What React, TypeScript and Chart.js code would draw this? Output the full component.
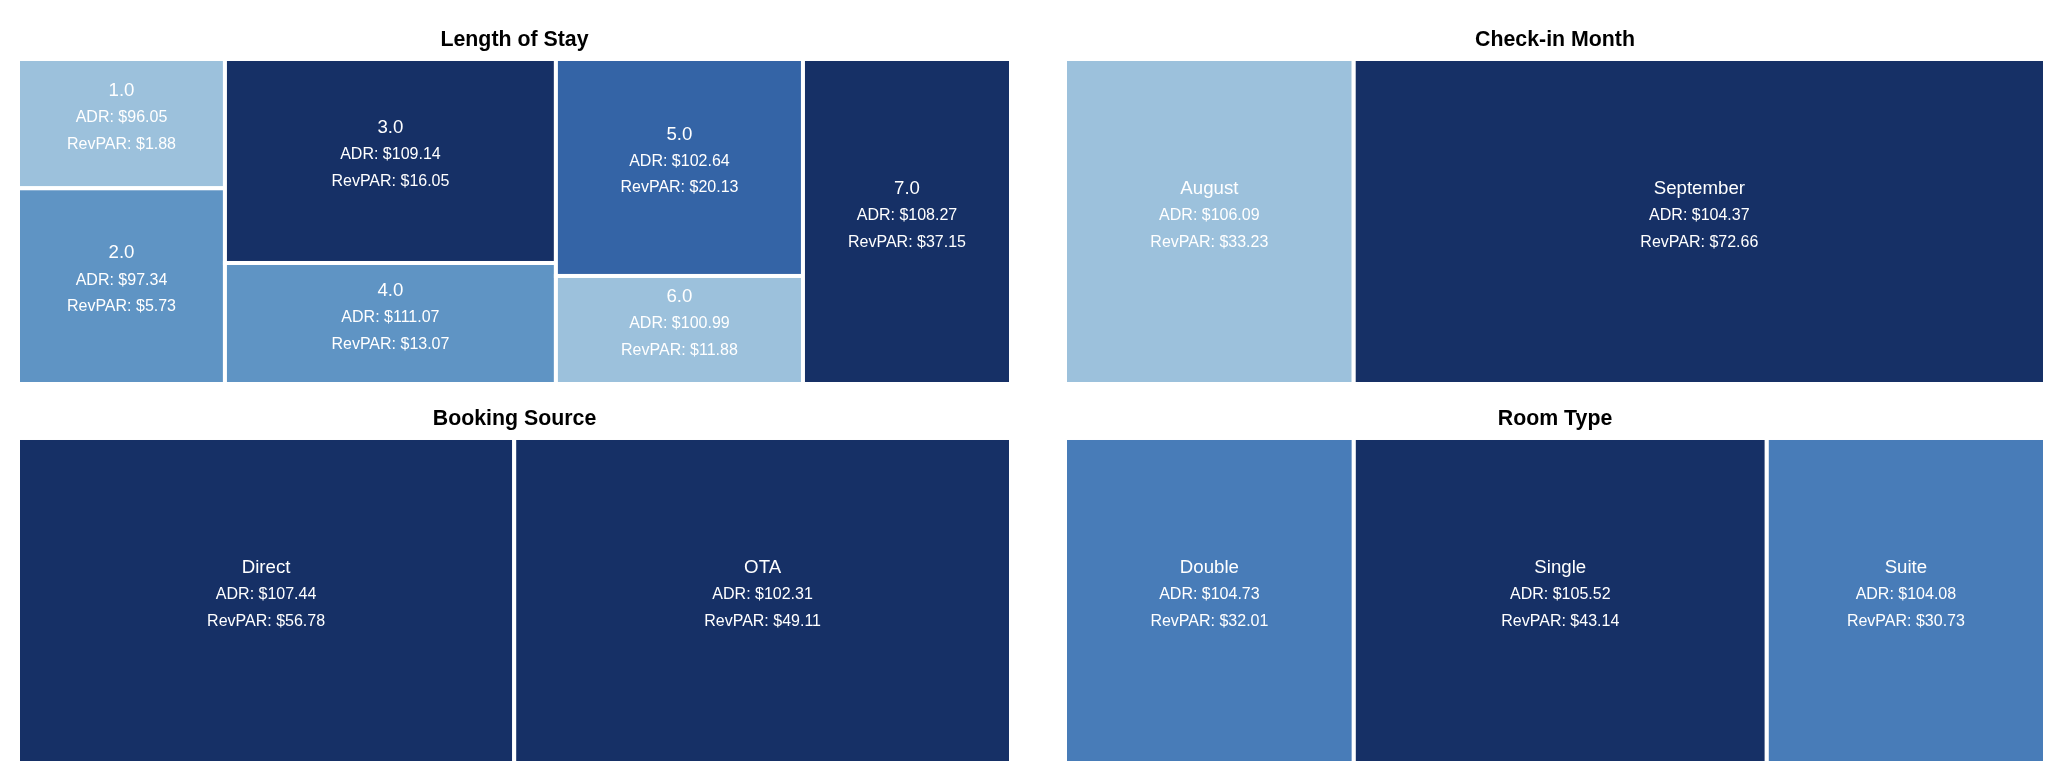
import React, { useEffect, useRef } from "react";
import { Chart, registerables } from "chart.js";

Chart.register(...registerables);

// ---------- data ----------
const losLabels = ["1.0", "2.0", "3.0", "4.0", "5.0", "6.0", "7.0"];
const losShare = [8.29, 12.55, 20.92, 12.41, 16.61, 8.27, 20.95];
const losADR = [96.05, 97.34, 109.14, 111.07, 102.64, 100.99, 108.27];
const losRevPAR = [1.88, 5.73, 16.05, 13.07, 20.13, 11.88, 37.15];

const monthLabels = ["August", "September"];
const monthShare = [29.46, 70.54];
const monthADR = [106.09, 104.37];
const monthRevPAR = [33.23, 72.66];

const sourceLabels = ["Direct", "OTA"];
const sourceShare = [49.97, 50.03];
const sourceADR = [107.44, 102.31];
const sourceRevPAR = [56.78, 49.11];

const roomLabels = ["Double", "Single", "Suite"];
const roomShare = [29.47, 42.14, 28.39];
const roomADR = [104.73, 105.52, 104.08];
const roomRevPAR = [32.01, 43.14, 30.73];

// ---------- styles ----------
const DARK = "#163066";
const LIGHT = "#9CC1DC";
const MID = "#5F94C4";
const MIDDARK = "#3464A6";
const ROOMMID = "#487CB8";

const losColors = [LIGHT, MID, DARK, MID, MIDDARK, LIGHT, DARK];
const monthColors = [LIGHT, DARK];
const sourceColors = [DARK, DARK];
const roomColors = [ROOMMID, DARK, ROOMMID];

const FONT = '"Liberation Sans", Arial, Helvetica, sans-serif';

type Panel = {
  title: string;
  labels: string[];
  values: number[];
  adr: number[];
  revpar: number[];
  colors: string[];
  left: number;
  top: number;
  width: number;
  height: number;
};

const panels: Panel[] = [
  { title: "Length of Stay", labels: losLabels, values: losShare, adr: losADR, revpar: losRevPAR, colors: losColors, left: 10, top: 12, width: 993, height: 364 },
  { title: "Check-in Month", labels: monthLabels, values: monthShare, adr: monthADR, revpar: monthRevPAR, colors: monthColors, left: 1057, top: 12, width: 980, height: 364 },
  { title: "Booking Source", labels: sourceLabels, values: sourceShare, adr: sourceADR, revpar: sourceRevPAR, colors: sourceColors, left: 10, top: 391, width: 993, height: 364 },
  { title: "Room Type", labels: roomLabels, values: roomShare, adr: roomADR, revpar: roomRevPAR, colors: roomColors, left: 1057, top: 391, width: 980, height: 364 },
];

// d3-style squarified treemap (golden ratio), unsorted
function squarify(values: number[], W: number, H: number) {
  const ratio = (1 + Math.sqrt(5)) / 2;
  const n = values.length;
  const out: { x0: number; y0: number; x1: number; y1: number }[] = new Array(n);
  let x0 = 0, y0 = 0, x1 = W, y1 = H;
  let value = values.reduce((a, b) => a + b, 0);
  let i0 = 0, i1 = 0;
  while (i0 < n) {
    const dx = x1 - x0, dy = y1 - y0;
    let sumValue = values[i1++];
    let minV = sumValue, maxV = sumValue;
    const alpha = Math.max(dy / dx, dx / dy) / (value * ratio);
    let beta = sumValue * sumValue * alpha;
    let minRatio = Math.max(maxV / beta, beta / minV);
    for (; i1 < n; ++i1) {
      const nv = values[i1];
      sumValue += nv;
      const mn = Math.min(minV, nv), mx = Math.max(maxV, nv);
      beta = sumValue * sumValue * alpha;
      const nr = Math.max(mx / beta, beta / mn);
      if (nr > minRatio) { sumValue -= nv; break; }
      minRatio = nr; minV = mn; maxV = mx;
    }
    if (dx < dy) {
      const yb = y0 + (dy * sumValue) / value;
      let cx = x0;
      for (let i = i0; i < i1; i++) {
        const w = ((x1 - x0) * values[i]) / sumValue;
        out[i] = { x0: cx, y0, x1: cx + w, y1: yb };
        cx += w;
      }
      y0 = yb;
    } else {
      const xb = x0 + (dx * sumValue) / value;
      let cy = y0;
      for (let i = i0; i < i1; i++) {
        const h = ((y1 - y0) * values[i]) / sumValue;
        out[i] = { x0, y0: cy, x1: xb, y1: cy + h };
        cy += h;
      }
      x0 = xb;
    }
    value -= sumValue;
    i0 = i1;
  }
  return out;
}

function makeTreemapPlugin(p: Panel) {
  return {
    id: "treemapCells",
    afterDatasetsDraw(chart: any) {
      const { ctx, chartArea, scales } = chart;
      const W = chartArea.right - chartArea.left;
      const H = chartArea.bottom - chartArea.top;
      const rects = squarify(p.values, W, H);
      ctx.save();
      rects.forEach((r, i) => {
        const xa = scales.x.getPixelForValue((r.x0 / W) * 100);
        const xb = scales.x.getPixelForValue((r.x1 / W) * 100);
        const ya = scales.y.getPixelForValue((r.y0 / H) * 100);
        const yb = scales.y.getPixelForValue((r.y1 / H) * 100);
        const left = Math.min(xa, xb), right = Math.max(xa, xb);
        const top = Math.min(ya, yb), bottom = Math.max(ya, yb);
        ctx.fillStyle = p.colors[i];
        ctx.fillRect(left, top, right - left, bottom - top);
        ctx.strokeStyle = "#ffffff";
        ctx.lineWidth = 4;
        ctx.strokeRect(left, top, right - left, bottom - top);

        const cx = (left + right) / 2;
        const cy = (top + bottom) / 2;
        ctx.fillStyle = "#ffffff";
        ctx.textAlign = "center";
        ctx.textBaseline = "middle";
        ctx.font = `18.67px ${FONT}`;
        ctx.fillText(p.labels[i], cx, cy - 33);
        ctx.font = `16px ${FONT}`;
        ctx.fillText(`ADR: $${p.adr[i].toFixed(2)}`, cx, cy - 6);
        ctx.fillText(`RevPAR: $${p.revpar[i].toFixed(2)}`, cx, cy + 20.6);
      });
      ctx.restore();
    },
  };
}

function TreemapPanel({ p }: { p: Panel }) {
  const ref = useRef<HTMLCanvasElement | null>(null);
  useEffect(() => {
    if (!ref.current) return;
    const chart = new Chart(ref.current, {
      type: "scatter",
      data: { datasets: [{ label: p.title, data: [] }] },
      options: {
        animation: false,
        responsive: false,
        devicePixelRatio: 1,
        layout: { padding: 0 },
        scales: {
          x: { type: "linear", min: 0, max: 100, display: false },
          y: { type: "linear", min: 0, max: 100, reverse: true, display: false },
        },
        plugins: {
          legend: { display: false },
          tooltip: { enabled: false },
          title: {
            display: true,
            text: p.title,
            color: "#000000",
            font: { size: 21.33, weight: "bold", family: FONT, lineHeight: 1.2 },
            padding: { top: 7, bottom: 6.4 },
          },
        },
      },
      plugins: [makeTreemapPlugin(p)],
    } as any);
    return () => chart.destroy();
  }, [p]);
  return (
    <div style={{ position: "absolute", left: p.left, top: p.top, width: p.width, height: p.height }}>
      <canvas ref={ref} width={p.width} height={p.height} style={{ display: "block" }} />
    </div>
  );
}

export default function App() {
  return (
    <div style={{ position: "relative", width: 2049, height: 757, background: "#ffffff" }}>
      {panels.map((p) => (
        <TreemapPanel key={p.title} p={p} />
      ))}
    </div>
  );
}
